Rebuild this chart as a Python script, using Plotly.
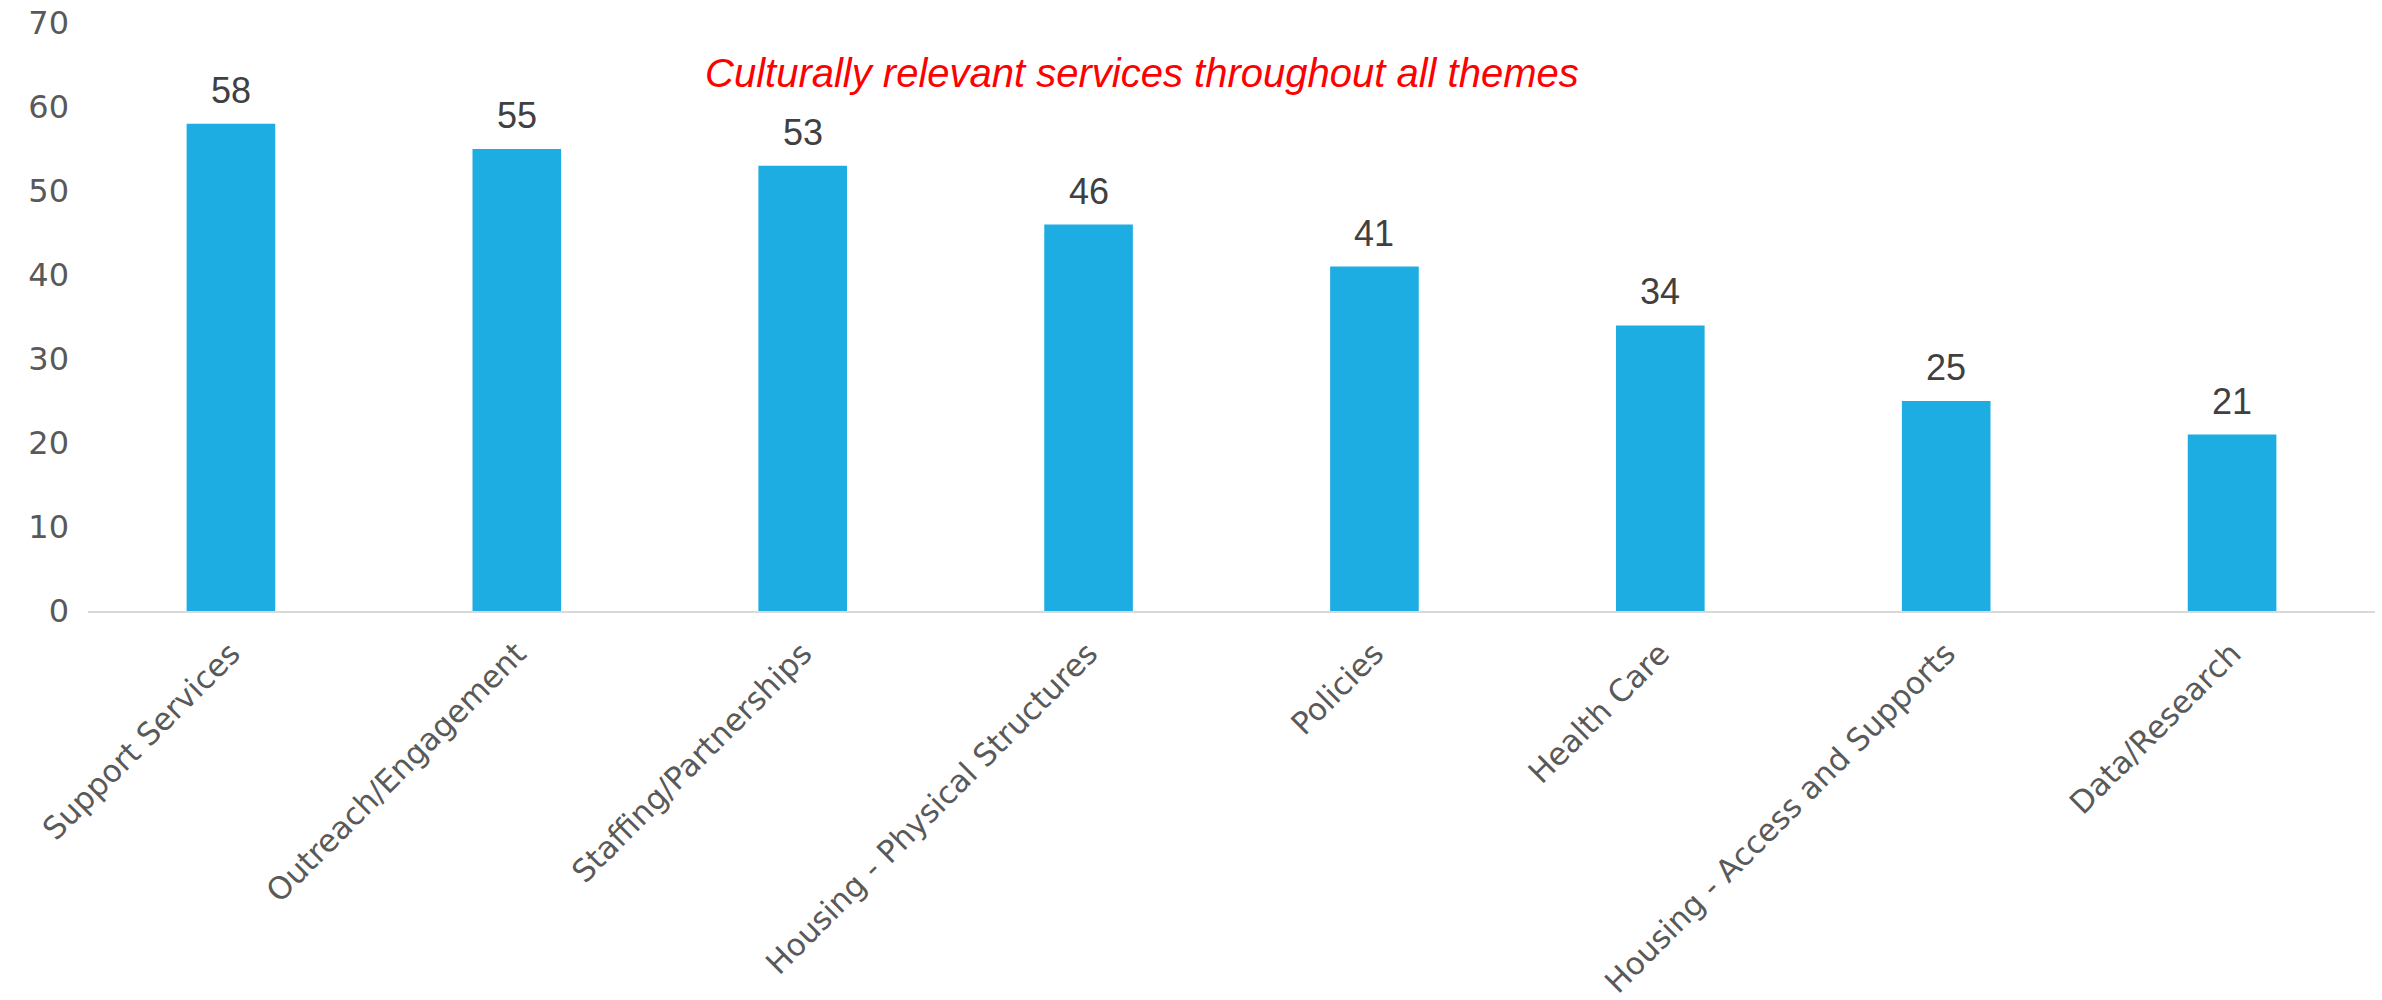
import plotly.graph_objects as go

# Number of initiatives mentioned per theme
themes = [
    "Support Services",
    "Outreach/Engagement",
    "Staffing/Partnerships",
    "Housing - Physical Structures",
    "Policies",
    "Health Care",
    "Housing - Access and Supports",
    "Data/Research",
]
counts = [58, 55, 53, 46, 41, 34, 25, 21]
y_ticks = [0, 10, 20, 30, 40, 50, 60, 70]
note_text = "Culturally relevant services throughout all themes"

BAR_COLOR = "#1EADE2"
TICK_COLOR = "#595959"
LABEL_COLOR = "#404040"

fig = go.Figure()
fig.add_trace(
    go.Bar(
        x=themes,
        y=counts,
        marker=dict(color=BAR_COLOR, line=dict(width=0)),
        hoverinfo="x+y",
    )
)

# Value labels above each bar
for theme, n in zip(themes, counts):
    fig.add_annotation(
        x=theme,
        y=n,
        text=str(n),
        showarrow=False,
        yanchor="bottom",
        yshift=11,
        font=dict(family="Liberation Sans, Arial, sans-serif", size=36, color=LABEL_COLOR),
    )

# Red italic note across the top of the chart
fig.add_annotation(
    xref="paper",
    yref="paper",
    x=0.461,
    y=0.915,
    text=f"<i>{note_text}</i>",
    showarrow=False,
    xanchor="center",
    yanchor="middle",
    font=dict(family="Liberation Sans, Arial, sans-serif", size=40, color="#FF0000"),
)

fig.update_layout(
    width=2382,
    height=1000,
    margin=dict(l=88, r=7, t=23, b=389),
    paper_bgcolor="white",
    plot_bgcolor="white",
    bargap=0.69,
    showlegend=False,
    xaxis=dict(
        automargin=False,
        tickangle=-45,
        tickfont=dict(family="DejaVu Sans, sans-serif", size=31, color=TICK_COLOR),
        showline=True,
        linecolor="#D9D9D9",
        linewidth=2,
        showgrid=False,
        ticks="",
        ticklabelstandoff=10,
    ),
    yaxis=dict(
        automargin=False,
        range=[0, 70],
        tickvals=y_ticks,
        tickfont=dict(family="DejaVu Sans, sans-serif", size=32, color=TICK_COLOR),
        showgrid=False,
        zeroline=False,
        showline=False,
        ticks="",
        ticklabelstandoff=18,
    ),
)

fig.write_html("out.html")
